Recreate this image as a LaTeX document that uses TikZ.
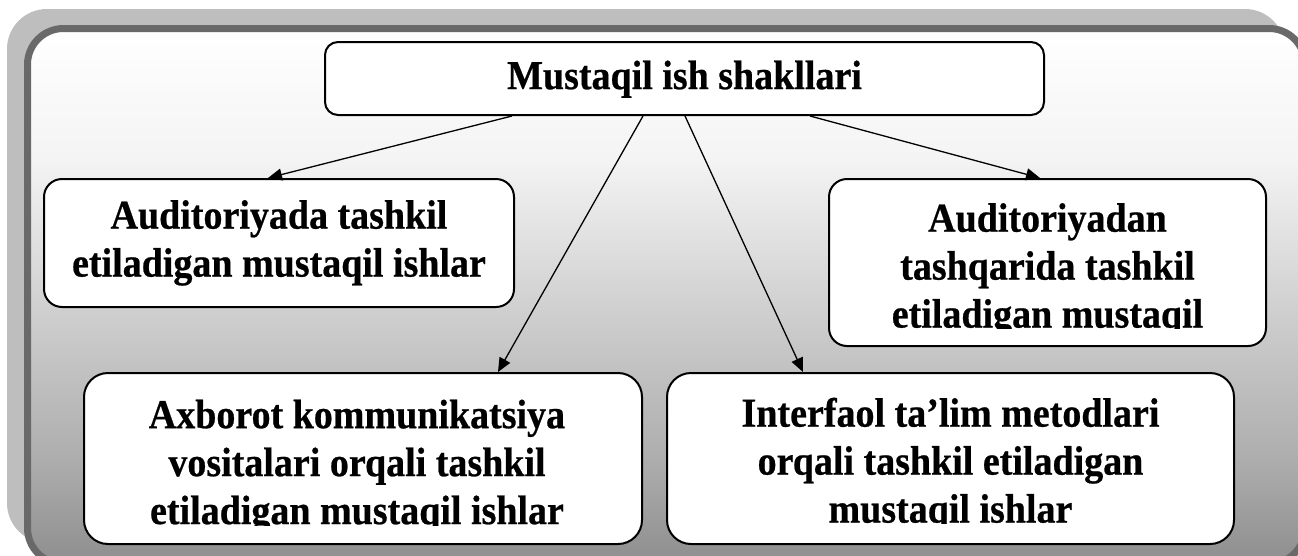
\documentclass[tikz,border=0pt]{standalone}
\usepackage{fontspec}
\setmainfont{Liberation Serif}[BoldFeatures={FakeBold=0.6}]
\usetikzlibrary{arrows.meta}
\definecolor{shadowgray}{HTML}{BEBEBE}
\definecolor{framegray}{HTML}{696969}
\definecolor{shA}{HTML}{F4F4F4}
\definecolor{shB}{HTML}{C6C6C6}
\definecolor{shC}{HTML}{AEAEAE}
\definecolor{shD}{HTML}{8E8E8E}
\pgfdeclareverticalshading{framesh}{100bp}{color(0bp)=(shD); color(25bp)=(shD); color(35bp)=(shC); color(45bp)=(shB); color(63bp)=(shA); color(75bp)=(white); color(100bp)=(white)}
\newcommand{\tallbox}[1]{\scalebox{1}[1.08]{\begin{tabular}{@{}c@{}}#1\end{tabular}}}
\tikzset{
  box/.style={draw, line width=2pt, fill=white, inner sep=0pt, rounded corners=#1},
  box/.default=18pt,
  lbl/.style={font=\fontsize{38}{44.4}\selectfont\bfseries, inner sep=0pt},
  arr/.style={line width=1.3pt, -{Triangle[length=14pt, width=12pt]}}
}
\begin{document}
\begin{tikzpicture}[x=1pt, y=-1pt]
\useasboundingbox (0,0) rectangle (1298,555);
\clip (0,0) rectangle (1298,555);
% shadow and frame
\fill[shadowgray, rounded corners=40pt] (7,9) rectangle (1285,543);
\draw[framegray, line width=7pt, rounded corners=36pt, shading=framesh] (27.5,28.5) rectangle (1305,564);
% boxes
\node[box=13pt, minimum width=719pt, minimum height=73pt] (top) at (684.5,78.5) {};
\node[box, minimum width=470pt, minimum height=128pt] (lm) at (279,243) {};
\node[box, minimum width=437pt, minimum height=167pt] (rm) at (1047.5,262.5) {};
\node[box=24pt, minimum width=558pt, minimum height=171pt] (bl) at (363,458.5) {};
\node[box=24pt, minimum width=567pt, minimum height=171pt] (br) at (950.5,458.5) {};
% texts
\node[lbl] (ttop) at (684.5,79.5) {\tallbox{Mustaqil ish shakllari}};
\node[lbl] (tlm) at (279,243) {\tallbox{Auditoriyada tashkil\\etiladigan mustaqil ishlar}};
\begin{scope}
\clip (0,0) rectangle (1298,328);
\node[lbl] (trm) at (1047.5,270) {\tallbox{Auditoriyadan\\tashqarida tashkil\\etiladigan mustaqil}};
\end{scope}
\begin{scope}
\clip (0,0) rectangle (1298,525);
\node[lbl] (tbl) at (357,466.5) {\tallbox{Axborot kommunikatsiya\\vositalari orqali tashkil\\etiladigan mustaqil ishlar}};
\end{scope}
\begin{scope}
\clip (0,0) rectangle (1298,523);
\node[lbl] (tbr) at (950.5,465) {\tallbox{Interfaol ta’lim metodlari\\orqali tashkil etiladigan\\mustaqil ishlar}};
\end{scope}
% connectors
\draw[arr] (top.south -| 512,0) -- (lm.north -| 268,0);
\draw[arr] (top.south -| 643,0) -- (bl.north -| 498,0);
\draw[arr] (top.south -| 685,0) -- (br.north -| 803,0);
\draw[arr] (top.south -| 810,0) -- (rm.north -| 1040,0);
\end{tikzpicture}
\end{document}
